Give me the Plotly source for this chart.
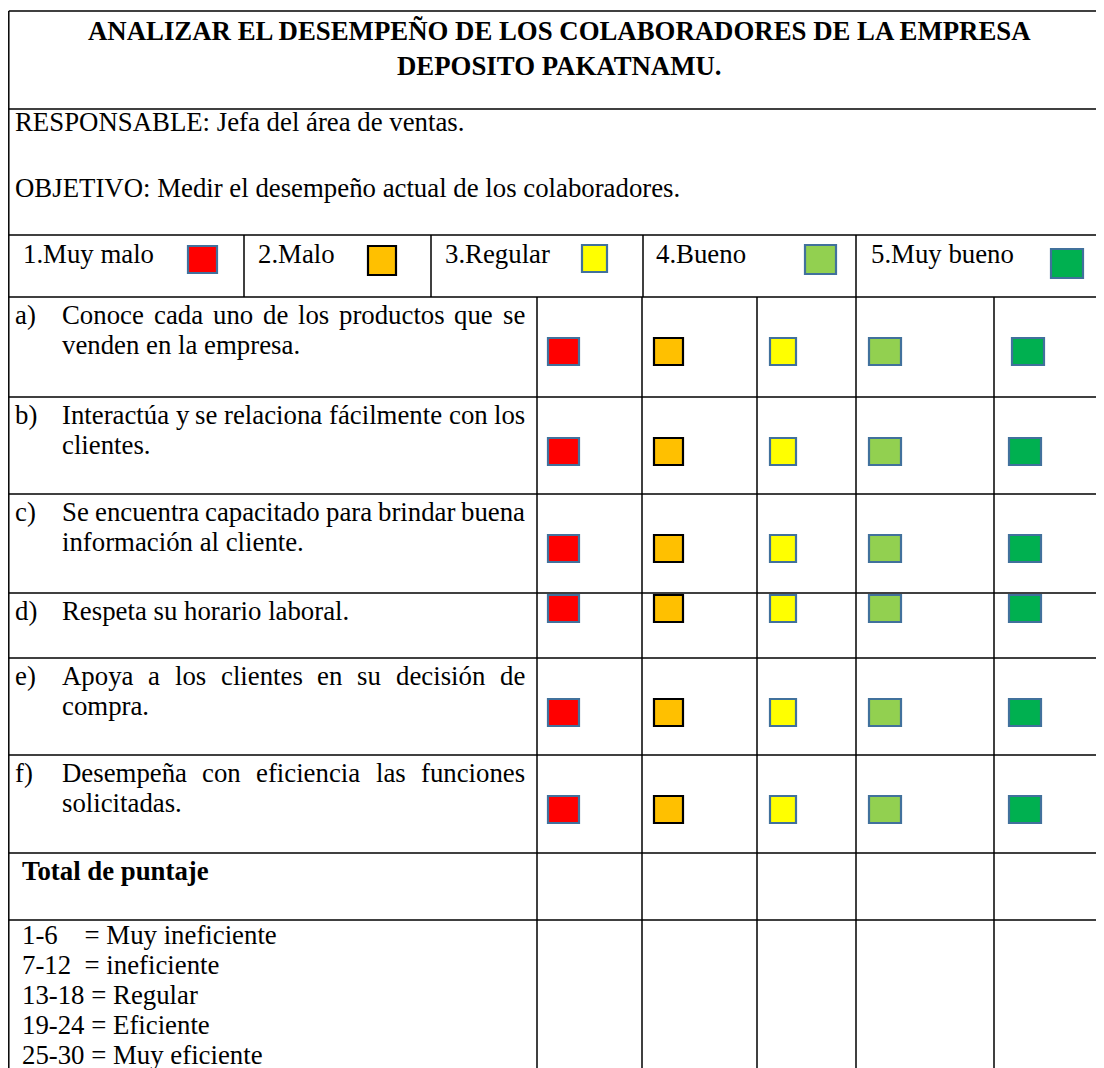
import plotly.graph_objects as go

# ---------------- content (data) ----------------
title_lines = ["ANALIZAR EL DESEMPEÑO DE LOS COLABORADORES DE LA EMPRESA",
               "DEPOSITO PAKATNAMU."]
responsable = "RESPONSABLE: Jefa del área de ventas."
objetivo = "OBJETIVO: Medir el desempeño actual de los colaboradores."
scale_labels = ["1.Muy malo", "2.Malo", "3.Regular", "4.Bueno", "5.Muy bueno"]
scale_colors = ["#FF0000", "#FFC000", "#FFFF00", "#92D050", "#00B050"]
scale_edges = ["#41719C", "#000000", "#41719C", "#41719C", "#41719C"]
item_letters = ["a)", "b)", "c)", "d)", "e)", "f)"]
item_lines = [
    ["Conoce cada uno de los productos que se", "venden en la empresa."],
    ["Interactúa y se relaciona fácilmente con los", "clientes."],
    ["Se encuentra capacitado para brindar buena", "información al cliente."],
    ["Respeta su horario laboral."],
    ["Apoya a los clientes en su decisión de", "compra."],
    ["Desempeña con eficiencia las funciones", "solicitadas."],
]
total_label = "Total de puntaje"
score_ranges = ["1-6", "7-12", "13-18", "19-24", "25-30"]
score_pads = [4, 2, 1, 1, 1]
score_levels = ["Muy ineficiente", "ineficiente", "Regular", "Eficiente", "Muy eficiente"]

# ---------------- layout constants ----------------
W, H = 1104, 1068
BODY = 8  # default page margin of the html body
FONT = "Liberation Serif"
FS = 26.8
LW = 1.5
X_LEFT, X_RIGHT = 8.8, 1112
Y_TOP, Y_TITLE_END, Y_INFO_END, Y_LEG_END = 11, 109, 235, 297
row_tops = [297, 397, 494, 593, 658, 755, 853, 920]
leg_div = [244, 431, 643, 856]
leg_text_x = [23, 258, 445, 656, 871]
leg_boxes = [(188, 217, 246, 273), (368, 396, 246, 275), (582, 607, 245, 272),
             (805, 836, 245, 274), (1051, 1083, 249, 278)]
col_div = [537, 642, 757, 856, 994]
box_x = [(548, 579), (654, 683), (770, 796), (869, 901), (1009, 1041)]
BOX_H = 27
LINE_SP = 30
TXT_X0, TXT_X1, LETTER_X = 62, 525, 15

# Times / Liberation Serif advance widths (per 1000 em)
TW = {' ': 250, '.': 250, ',': 250, ':': 278, '-': 333, '=': 564, '(': 333, ')': 333,
      'A': 722, 'B': 667, 'C': 667, 'D': 722, 'E': 611, 'F': 556, 'G': 722, 'H': 722,
      'I': 333, 'J': 389, 'K': 722, 'L': 611, 'M': 889, 'N': 722, 'O': 722, 'P': 556,
      'Q': 722, 'R': 667, 'S': 556, 'T': 611, 'U': 722, 'V': 722, 'W': 944, 'X': 722,
      'Y': 722, 'Z': 611, 'a': 444, 'b': 500, 'c': 444, 'd': 500, 'e': 444, 'f': 333,
      'g': 500, 'h': 500, 'i': 278, 'j': 278, 'k': 500, 'l': 278, 'm': 778, 'n': 500,
      'o': 500, 'p': 500, 'q': 500, 'r': 333, 's': 389, 't': 278, 'u': 500, 'v': 500,
      'w': 722, 'x': 500, 'y': 500, 'z': 444, 'á': 444, 'é': 444, 'í': 278, 'ó': 500,
      'ú': 500, 'ñ': 500}


def tw(s):
    return sum(TW.get(c, 500) for c in s) * FS / 1000.0


def cy(baseline):
    return baseline - 0.3375 * FS


shapes = []
annots = []


def hline(y, x0=X_LEFT, x1=X_RIGHT):
    shapes.append(dict(type="line", x0=x0, x1=x1, y0=y, y1=y, xref="x", yref="y",
                       line=dict(color="black", width=LW)))


def vline(x, y0, y1):
    shapes.append(dict(type="line", x0=x, x1=x, y0=y0, y1=y1, xref="x", yref="y",
                       line=dict(color="black", width=LW)))


def text(x, baseline, s, anchor="left", bold=False):
    annots.append(dict(x=x, y=cy(baseline), xref="x", yref="y",
                       text=("<b>%s</b>" % s) if bold else s,
                       showarrow=False, xanchor=anchor, yanchor="middle",
                       borderpad=0, borderwidth=0,
                       font=dict(family=FONT, size=FS, color="black")))


def box(x0, x1, y0, y1, i):
    shapes.append(dict(type="rect", x0=x0, x1=x1, y0=y0, y1=y1, xref="x", yref="y",
                       fillcolor=scale_colors[i], line=dict(color=scale_edges[i], width=2.2)))


def justified(line, baseline):
    words = line.split(" ")
    total = sum(tw(w) for w in words)
    gap = max((TXT_X1 - TXT_X0 - total) / (len(words) - 1), 0.2 * FS)
    x = TXT_X0
    for w in words:
        text(x, baseline, w)
        x += tw(w) + gap


# grid
for y in [Y_TOP, Y_TITLE_END, Y_INFO_END, Y_LEG_END] + row_tops[1:]:
    hline(y)
vline(X_LEFT, Y_TOP, H + 5)
vline(X_RIGHT, Y_TOP, H + 5)
for x in leg_div:
    vline(x, Y_INFO_END, Y_LEG_END)
for x in col_div:
    vline(x, Y_LEG_END, H + 5)

# title
cx = (7 + X_RIGHT) / 2
for k, t in enumerate(title_lines):
    text(cx, 40 + 35 * k, t, anchor="center", bold=True)

# info
text(15, 131, responsable)
text(15, 197, objetivo)

# legend row
for i, lab in enumerate(scale_labels):
    text(leg_text_x[i], Y_INFO_END + 28, lab)
    bx0, bx1, by0, by1 = leg_boxes[i]
    box(bx0, bx1, by0, by1, i)

# items
for r, lines in enumerate(item_lines):
    top = row_tops[r]
    base = top + 27
    text(LETTER_X, base, item_letters[r])
    for k, ln in enumerate(lines):
        b = base + LINE_SP * k
        if k < len(lines) - 1:
            justified(ln, b)
        else:
            text(TXT_X0, b, ln)
    off = 2 if len(lines) == 1 else 41
    for i in range(5):
        x0, x1 = box_x[i]
        if r == 0 and i == 4:
            x0, x1 = x0 + 3, x1 + 3
        box(x0, x1, top + off, top + off + BOX_H, i)

# total row
text(22, row_tops[6] + 27, total_label, bold=True)

# scoring key
for k, (rg, lv) in enumerate(zip(score_ranges, score_levels)):
    s = rg + "\u00a0" * score_pads[k] + "= " + lv
    text(22, row_tops[7] + 24 + 30 * k, s)

fig = go.Figure()
fig.update_layout(
    width=W - BODY, height=H - BODY, margin=dict(l=0, r=0, t=0, b=0),
    paper_bgcolor="white", plot_bgcolor="white",
    xaxis=dict(range=[BODY, W], visible=False, fixedrange=True),
    yaxis=dict(range=[H, BODY], visible=False, fixedrange=True),
    shapes=shapes, annotations=annots, showlegend=False,
)
fig.write_html("out.html")
